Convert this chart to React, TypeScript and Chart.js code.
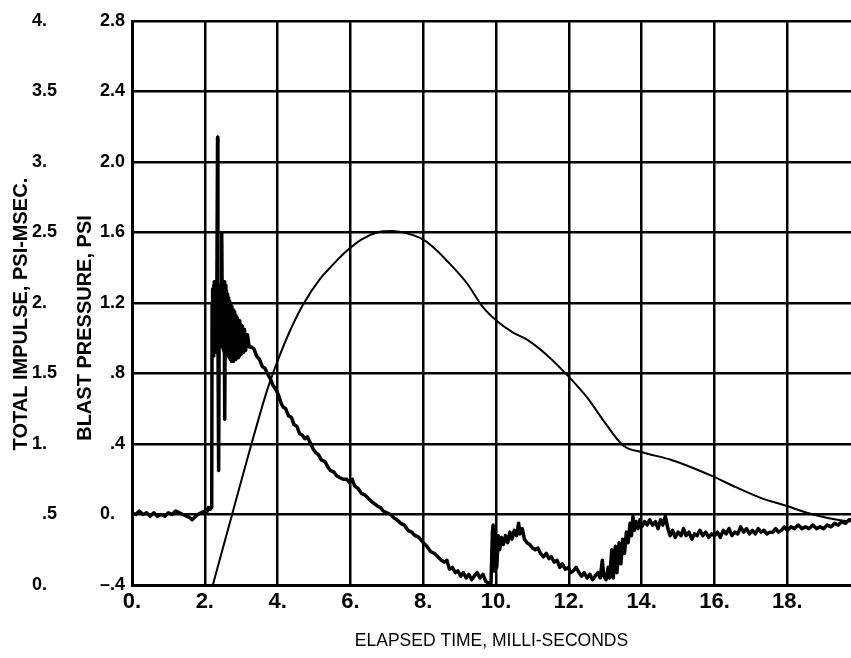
import React, { useEffect, useRef } from "react";
import { Chart, registerables } from "chart.js";

Chart.register(...registerables);

const TIME_TICKS = [0, 2, 4, 6, 8, 10, 12, 14, 16, 18];
const TIME_LABELS = ["0.", "2.", "4.", "6.", "8.", "10.", "12.", "14.", "16.", "18."];
const PRESSURE_TICKS = [-0.4, 0, 0.4, 0.8, 1.2, 1.6, 2.0, 2.4, 2.8];
const PRESSURE_LABELS = ["\u2013.4", "0.", ".4", ".8", "1.2", "1.6", "2.0", "2.4", "2.8"];
const IMPULSE_TICKS = [0, 0.5, 1, 1.5, 2, 2.5, 3, 3.5, 4];
const IMPULSE_LABELS = ["0.", ".5", "1.", "1.5", "2.", "2.5", "3.", "3.5", "4."];

// Blast pressure trace (psi) vs elapsed time (ms)
const PRESSURE_T = [
  0.0, 0.1, 0.2, 0.3, 0.4, 0.5, 0.6, 0.7, 0.8, 0.9, 1.0, 1.1, 1.2, 1.3, 1.4, 1.5, 1.6, 1.65, 1.7, 1.8, 1.9, 2.0, 2.05, 2.1, 2.15, 2.19,
  2.2, 2.21, 2.22, 2.23, 2.24, 2.25, 2.26, 2.27, 2.28, 2.29, 2.3, 2.31, 2.32, 2.33, 2.35, 2.36, 2.38, 2.4, 2.415, 2.43, 2.445, 2.46,
  2.47, 2.485, 2.5, 2.515, 2.53, 2.545, 2.55, 2.565, 2.58, 2.595, 2.61, 2.625, 2.64, 2.655, 2.67, 2.685, 2.7, 2.715, 2.73, 2.745,
  2.76, 2.775, 2.79, 2.805, 2.82, 2.835, 2.85, 2.865, 2.88, 2.9, 2.92, 2.94, 2.96, 2.98, 3.0, 3.03, 3.06, 3.09, 3.12, 3.17, 3.22,
  3.28, 3.35, 3.42, 3.5, 3.58, 3.65, 3.72, 3.8, 3.88, 3.95, 4.02, 4.1, 4.15, 4.22, 4.3, 4.38, 4.45, 4.53, 4.6, 4.68, 4.75, 4.82, 4.89, 4.98,
  5.05, 5.12, 5.2, 5.3, 5.38, 5.45, 5.55, 5.62, 5.7, 5.8, 5.9, 5.98, 6.05, 6.12, 6.2, 6.3, 6.4, 6.5, 6.6, 6.73, 6.82, 6.9, 7.0,
  7.1, 7.2, 7.28, 7.38, 7.48, 7.58, 7.68, 7.78, 7.88, 8.0, 8.1, 8.2, 8.3, 8.4, 8.5, 8.58, 8.65, 8.72, 8.8, 8.88, 8.95, 9.03, 9.1,
  9.18, 9.25, 9.33, 9.4, 9.48, 9.56, 9.64, 9.72, 9.8, 9.86, 9.9, 9.92, 9.95, 9.98, 10.02, 10.06, 10.1, 10.15, 10.2, 10.26, 10.32,
  10.38, 10.44, 10.5, 10.56, 10.62, 10.66, 10.72, 10.78, 10.85, 10.92, 11.0, 11.08, 11.15, 11.22, 11.3, 11.38, 11.45, 11.52, 11.6,
  11.68, 11.75, 11.82, 11.9, 11.98, 12.05, 12.12, 12.2, 12.28, 12.35, 12.42, 12.5, 12.58, 12.65, 12.72, 12.8, 12.86, 12.92, 12.96,
  13.02, 13.08, 13.12, 13.18, 13.22, 13.28, 13.32, 13.38, 13.43, 13.48, 13.53, 13.58, 13.63, 13.68, 13.72, 13.76, 13.8, 13.85,
  13.9, 13.95, 14.0, 14.08, 14.15, 14.22, 14.3, 14.38, 14.45, 14.52, 14.58, 14.65, 14.72, 14.78, 14.85, 14.92, 15.0, 15.08, 15.15,
  15.22, 15.3, 15.38, 15.45, 15.52, 15.6, 15.68, 15.76, 15.84, 15.92, 16.0, 16.08, 16.16, 16.24, 16.32, 16.4, 16.48, 16.56, 16.64,
  16.72, 16.8, 16.88, 16.96, 17.04, 17.12, 17.2, 17.28, 17.36, 17.44, 17.52, 17.6, 17.68, 17.76, 17.84, 17.92, 18.0, 18.1, 18.2,
  18.3, 18.4, 18.5, 18.6, 18.7, 18.8, 18.9, 19.0, 19.1, 19.2, 19.3, 19.4, 19.5, 19.6, 19.7, 19.8,
];
const PRESSURE_PSI = [
  0.01, 0.0, 0.02, 0.0, 0.01, -0.01, 0.01, -0.01, 0.0, -0.01, 0.01, 0.0, 0.02, 0.01, 0.0, -0.01, -0.02, -0.03, -0.02, 0.0, 0.01, 0.02, 0.01, 0.04, 0.03, 0.04,
  1.2, 0.95, 1.28, 0.9, 1.3, 0.92, 1.32, 0.95, 1.28, 0.92, 1.3, 0.98, 1.27, 1.0, 2.14, 1.05, 0.25, 1.3, 0.95, 1.28, 0.96, 1.25,
  1.6, 0.95, 1.3, 0.93, 1.32, 0.96, 0.54, 1.3, 0.92, 1.27, 0.93, 1.25, 0.9, 1.23, 0.89, 1.21, 0.88, 1.19, 0.87, 1.18,
  0.88, 1.16, 0.87, 1.15, 0.89, 1.13, 0.88, 1.12, 0.9, 1.11, 0.89, 1.1, 0.9, 1.08, 0.91, 1.07, 0.92, 1.05, 0.93, 1.02, 0.95,
  0.95, 0.94, 0.9, 0.88, 0.84, 0.83, 0.8, 0.77, 0.73, 0.71, 0.68, 0.63, 0.61, 0.6, 0.56, 0.55, 0.51, 0.5, 0.46, 0.45, 0.43, 0.44, 0.41, 0.37,
  0.35, 0.34, 0.31, 0.3, 0.27, 0.25, 0.24, 0.22, 0.21, 0.2, 0.2, 0.18, 0.2, 0.16, 0.15, 0.12, 0.11, 0.09, 0.07, 0.05, 0.04, 0.02, 0.01,
  0.0, -0.02, -0.03, -0.05, -0.06, -0.09, -0.1, -0.12, -0.13, -0.16, -0.18, -0.21, -0.22, -0.24, -0.26, -0.27, -0.26, -0.31, -0.3, -0.33, -0.32, -0.35, -0.33,
  -0.36, -0.34, -0.37, -0.35, -0.33, -0.36, -0.34, -0.38, -0.39, -0.4, -0.1, -0.06, -0.32, -0.15, -0.3, -0.12, -0.2, -0.13, -0.17, -0.12, -0.16,
  -0.1, -0.14, -0.09, -0.12, -0.05, -0.11, -0.08, -0.14, -0.16, -0.17, -0.19, -0.2, -0.19, -0.22, -0.24, -0.22, -0.25, -0.24, -0.27,
  -0.26, -0.3, -0.28, -0.31, -0.3, -0.33, -0.32, -0.3, -0.33, -0.35, -0.33, -0.36, -0.34, -0.37, -0.35, -0.33, -0.36, -0.26, -0.35,
  -0.37, -0.3, -0.36, -0.2, -0.36, -0.18, -0.33, -0.16, -0.28, -0.14, -0.22, -0.1, -0.16, -0.05, -0.12, -0.01, -0.09, -0.04,
  -0.08, -0.03, -0.07, -0.04, -0.06, -0.03, -0.06, -0.04, -0.08, -0.03, -0.06, -0.01, -0.08, -0.12, -0.09, -0.13, -0.1, -0.12, -0.08,
  -0.12, -0.1, -0.14, -0.11, -0.12, -0.09, -0.12, -0.1, -0.13, -0.11, -0.12, -0.1, -0.13, -0.09, -0.11, -0.08, -0.12, -0.1, -0.11,
  -0.07, -0.1, -0.08, -0.11, -0.09, -0.11, -0.08, -0.1, -0.09, -0.11, -0.1, -0.1, -0.08, -0.1, -0.09, -0.07, -0.09, -0.07, -0.08,
  -0.06, -0.08, -0.07, -0.08, -0.06, -0.08, -0.07, -0.08, -0.06, -0.07, -0.05, -0.06, -0.04, -0.05, -0.03, -0.03,
];

// Total impulse (psi-msec) vs elapsed time (ms)
const IMPULSE_T = [
  2.22, 2.77, 3.26, 3.71, 3.87, 4.0, 4.3, 4.7, 5.16, 5.44, 5.9, 6.3, 6.73, 7.14, 7.6, 8.0, 8.3, 8.65, 9.2, 9.64, 10.03,
  10.47, 10.85, 11.4, 11.95, 12.5, 12.94, 13.49, 14.04, 14.78, 15.41, 15.96, 16.62, 17.25, 17.99, 18.7, 19.45, 19.8,
];
const IMPULSE_PSI_MS = [
  0.0, 0.52, 0.98, 1.38, 1.5, 1.59, 1.78, 1.99, 2.17, 2.25, 2.37, 2.45, 2.5, 2.51, 2.49, 2.45, 2.39, 2.3, 2.14, 1.97, 1.87,
  1.79, 1.74, 1.63, 1.49, 1.33, 1.17, 0.99, 0.94, 0.89, 0.83, 0.77, 0.69, 0.62, 0.56, 0.5, 0.46, 0.45,
];

const FAMILY = '"Liberation Sans", Arial, Helvetica, sans-serif';
const decimalPad = (s: string) => (s.endsWith(".") ? s + "\u2007" : s);

export default function App() {
  const canvasRef = useRef<HTMLCanvasElement | null>(null);

  useEffect(() => {
    const canvas = canvasRef.current;
    if (!canvas) return;
    const chart = new Chart(canvas, {
      type: "line",
      data: {
        datasets: [
          {
            label: "Blast pressure",
            data: PRESSURE_T.map((t, i) => ({ x: t, y: PRESSURE_PSI[i] })),
            yAxisID: "y",
            borderColor: "#000",
            borderWidth: 3.5,
            pointRadius: 0,
            tension: 0,
            borderJoinStyle: "round",
          },
          {
            label: "Total impulse",
            data: IMPULSE_T.map((t, i) => ({ x: t, y: IMPULSE_PSI_MS[i] })),
            yAxisID: "impulse",
            borderColor: "#000",
            borderWidth: 2,
            pointRadius: 0,
            cubicInterpolationMode: "monotone",
          },
        ],
      },
      options: {
        responsive: false,
        animation: false,
        devicePixelRatio: 1,
        layout: { padding: { top: 21, left: 0, right: 0, bottom: 0 } },
        plugins: { legend: { display: false }, tooltip: { enabled: false } },
        elements: { point: { radius: 0 } },
        scales: {
          x: {
            type: "linear",
            position: "bottom",
            min: 0,
            max: 19.75,
            afterBuildTicks: (s: any) => {
              s.ticks = TIME_TICKS.map((v) => ({ value: v }));
            },
            afterFit: (s: any) => {
              s.height = 73;
            },
            grid: { color: "#000", lineWidth: 2.5, drawTicks: false },
            border: { color: "#000", width: 3 },
            ticks: {
              padding: 4,
              color: "#000",
              autoSkip: false,
              maxRotation: 0,
              font: { family: FAMILY, size: 22, weight: "bold" },
              callback: (_v: any, i: number) => TIME_LABELS[i],
            },
            title: {
              display: true,
              text: "ELAPSED TIME, MILLI-SECONDS",
              color: "#000",
              font: { family: FAMILY, size: 17.5, weight: "normal" },
              padding: { top: 0, bottom: 6.5 },
            },
          },
          y: {
            type: "linear",
            position: "left",
            weight: 0,
            min: -0.4,
            max: 2.8,
            afterBuildTicks: (s: any) => {
              s.ticks = PRESSURE_TICKS.map((v) => ({ value: v }));
            },
            afterFit: (s: any) => {
              s.width = 70;
            },
            grid: { color: "#000", lineWidth: 2.5, drawTicks: false },
            border: { color: "#000", width: 3 },
            ticks: {
              padding: 7,
              color: "#000",
              autoSkip: false,
              font: { family: FAMILY, size: 18, weight: "bold" },
              callback: (_v: any, i: number) => decimalPad(PRESSURE_LABELS[i]),
            },
            title: {
              display: true,
              text: "BLAST PRESSURE, PSI         ",
              color: "#000",
              font: { family: FAMILY, size: 20, weight: "bold" },
              padding: { top: 11, bottom: 0 },
            },
          },
          impulse: {
            type: "linear",
            position: "left",
            weight: 1,
            min: 0,
            max: 4,
            afterBuildTicks: (s: any) => {
              s.ticks = IMPULSE_TICKS.map((v) => ({ value: v }));
            },
            afterFit: (s: any) => {
              s.width = 62;
            },
            grid: { display: false, drawTicks: false },
            border: { display: false },
            ticks: {
              padding: 5,
              color: "#000",
              autoSkip: false,
              font: { family: FAMILY, size: 18, weight: "bold" },
              callback: (_v: any, i: number) => decimalPad(IMPULSE_LABELS[i]),
            },
            title: {
              display: true,
              text: "TOTAL IMPULSE, PSI-MSEC.    ",
              color: "#000",
              font: { family: FAMILY, size: 20, weight: "bold" },
              padding: { top: 9, bottom: 0 },
            },
          },
        },
      },
    } as any);
    return () => chart.destroy();
  }, []);

  return (
    <div style={{ position: "absolute", left: 0, top: 0, width: 851, height: 658, background: "#fff" }}>
      <canvas ref={canvasRef} width={851} height={658} style={{ display: "block" }} />
    </div>
  );
}
